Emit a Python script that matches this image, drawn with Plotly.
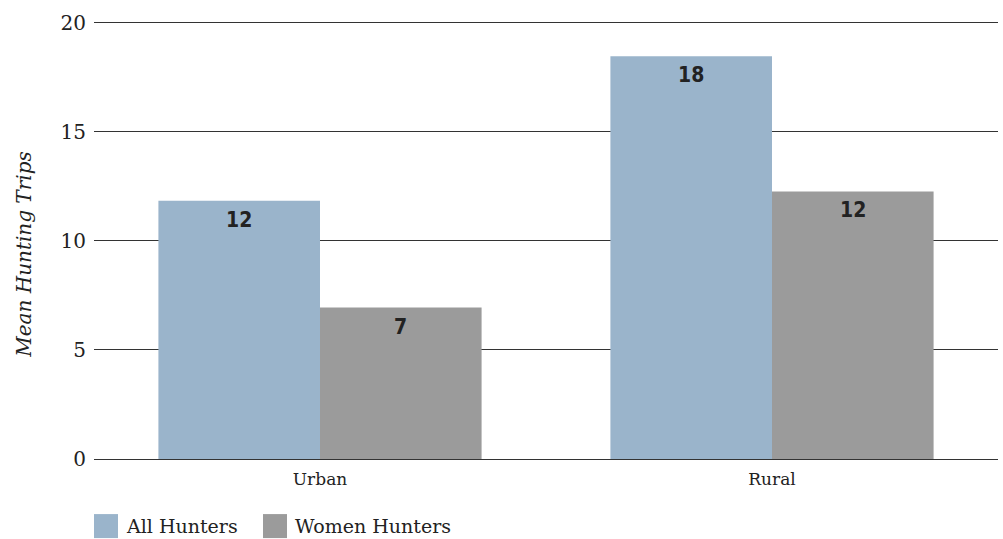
import plotly.graph_objects as go

categories = ["Urban", "Rural"]
series_names = ["All Hunters", "Women Hunters"]
all_hunters = [11.83, 18.45]
women_hunters = [6.94, 12.26]
y_ticks = [0, 5, 10, 15, 20]
y_title = "Mean Hunting Trips"
colors = ["#9AB4CB", "#9B9B9B"]

W, H = 1003, 539
UNIT = 21.8          # pixels per y unit
YMAX = 20.3
BASE_Y = 459         # pixel row of y = 0
ML, MR, MB = 94, 5, H - BASE_Y
MT = BASE_Y - YMAX * UNIT
BARGAP = 0.285
plot_w = W - ML - MR
plot_h = H - MT - MB
bar_px = plot_w / len(categories) * (1 - BARGAP) / 2

serif = "DejaVu Serif, Liberation Serif, serif"
label_font = dict(family="DejaVu Sans Condensed, Liberation Sans Narrow, Roboto, sans-serif",
                  size=21, color="#222222")

fig = go.Figure()
series = [all_hunters, women_hunters]
for j, (name, vals) in enumerate(zip(series_names, series)):
    fig.add_trace(go.Bar(
        x=categories, y=vals, name=name,
        marker=dict(color=colors[j], line=dict(width=0)),
        showlegend=False, hoverinfo="skip",
    ))

annotations = []
for j, vals in enumerate(series):
    for i, v in enumerate(vals):
        annotations.append(dict(
            x=categories[i], y=v, xref="x", yref="y",
            text="<b>%d</b>" % round(v), showarrow=False,
            xanchor="center", yanchor="middle",
            xshift=(j - 0.5) * bar_px, yshift=-19,
            font=label_font,
        ))

# y-axis title
annotations.append(dict(
    x=(24 - ML) / plot_w, y=(BASE_Y - 255) / plot_h,
    xref="paper", yref="paper", xanchor="center", yanchor="middle",
    text="<i>%s</i>" % y_title, textangle=-90, showarrow=False,
    font=dict(family=serif, size=20, color="#222222"),
))

# manual legend
shapes = []
legend_x = [94, 263]
for j, name in enumerate(series_names):
    x0 = (legend_x[j] - ML) / plot_w
    shapes.append(dict(
        type="rect", xref="paper", yref="paper",
        xsizemode="pixel", ysizemode="pixel",
        xanchor=x0, yanchor=(BASE_Y - 538) / plot_h,
        x0=0, x1=24, y0=0, y1=24,
        fillcolor=colors[j], line=dict(width=0),
    ))
    annotations.append(dict(
        x=(legend_x[j] + 30 - ML) / plot_w, y=(BASE_Y - 526) / plot_h,
        xref="paper", yref="paper", xanchor="left", yanchor="middle",
        text=name, showarrow=False,
        font=dict(family=serif, size=19, color="#222222"),
    ))

fig.update_layout(
    width=W, height=H,
    margin=dict(l=ML, r=MR, t=MT, b=MB, autoexpand=False),
    paper_bgcolor="white", plot_bgcolor="white",
    barmode="group", bargap=BARGAP, bargroupgap=0,
    showlegend=False,
    annotations=annotations, shapes=shapes,
    xaxis=dict(
        tickfont=dict(family=serif, size=17, color="#222222"),
        showgrid=False, showline=False, zeroline=False,
        ticks="", ticklabelstandoff=8,
    ),
    yaxis=dict(
        range=[0, YMAX], tickvals=y_ticks,
        tickfont=dict(family=serif, size=20, color="#222222"),
        showgrid=True, gridcolor="#333333", gridwidth=1,
        zeroline=True, zerolinecolor="#333333", zerolinewidth=1,
        showline=False, ticks="", ticklabelstandoff=7,
    ),
)

fig.write_html("out.html", config={"displayModeBar": False},
               post_script="document.body.style.margin='0px';")
